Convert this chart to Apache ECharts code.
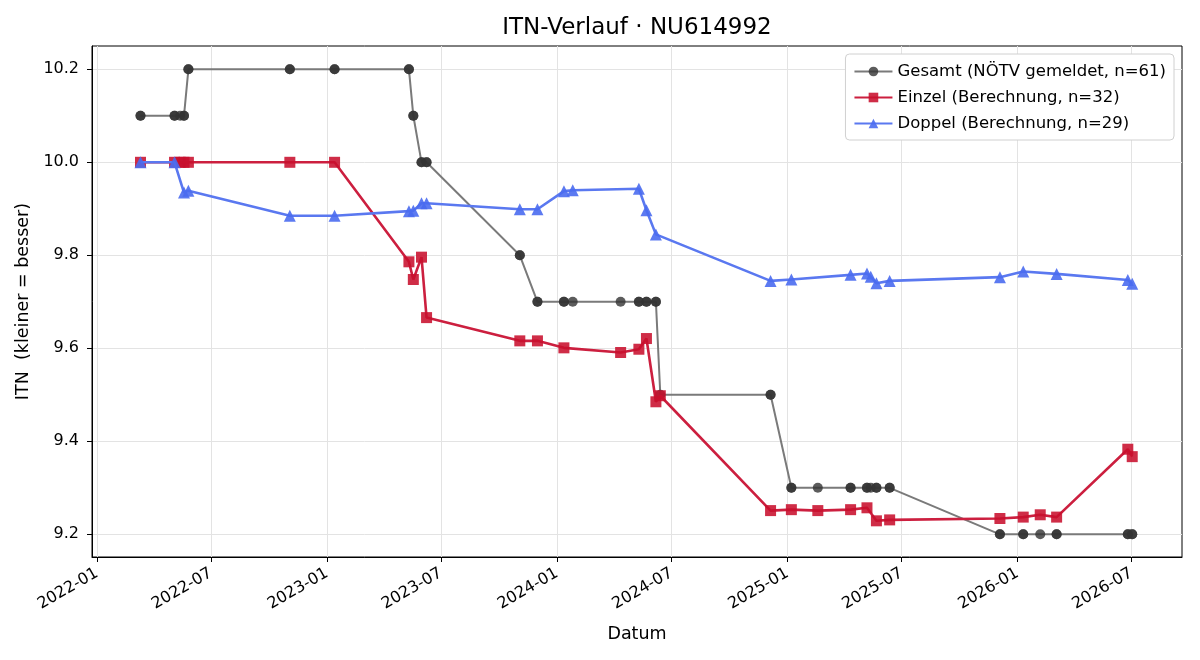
<!DOCTYPE html>
<html>
<head>
<meta charset="utf-8">
<script src="https://cdn.jsdelivr.net/npm/echarts@6/dist/echarts.min.js"></script>
<style>
  html, body { margin: 0; padding: 0; background: #fff; }
  #chart { width: 1200px; height: 660px; }
</style>
</head>
<body>
<div id="chart"></div>
<script>
// Gesamt: NÖTV-Meldungen (ein Eintrag je Einzel/Doppel-Ergebnis, daher Duplikate)
var gesamtDates = [
  '2022-03-11', '2022-03-11', '2022-05-04', '2022-05-04', '2022-05-13',
  '2022-05-19', '2022-05-19', '2022-05-26', '2022-05-26', '2022-11-03',
  '2022-11-03', '2023-01-13', '2023-01-13', '2023-05-11', '2023-05-11',
  '2023-05-18', '2023-05-18', '2023-05-31', '2023-05-31', '2023-06-08',
  '2023-06-08', '2023-11-03', '2023-11-03', '2023-12-01', '2023-12-01',
  '2024-01-12', '2024-01-12', '2024-01-26', '2024-04-11', '2024-05-10',
  '2024-05-10', '2024-05-22', '2024-05-22', '2024-06-06', '2024-06-06',
  '2024-06-13', '2024-12-05', '2024-12-05', '2025-01-07', '2025-01-07',
  '2025-02-18', '2025-04-11', '2025-04-11', '2025-05-07', '2025-05-07',
  '2025-05-13', '2025-05-22', '2025-05-22', '2025-06-12', '2025-06-12',
  '2025-12-04', '2025-12-04', '2026-01-10', '2026-01-10', '2026-02-06',
  '2026-03-04', '2026-03-04', '2026-06-25', '2026-06-25', '2026-07-02',
  '2026-07-02'
];
var gesamtValues = [
  10.1, 10.1, 10.1, 10.1, 10.1,
  10.1, 10.1, 10.2, 10.2, 10.2,
  10.2, 10.2, 10.2, 10.2, 10.2,
  10.1, 10.1, 10.0, 10.0, 10.0,
  10.0, 9.8, 9.8, 9.7, 9.7,
  9.7, 9.7, 9.7, 9.7, 9.7,
  9.7, 9.7, 9.7, 9.7, 9.7,
  9.5, 9.5, 9.5, 9.3, 9.3,
  9.3, 9.3, 9.3, 9.3, 9.3,
  9.3, 9.3, 9.3, 9.3, 9.3,
  9.2, 9.2, 9.2, 9.2, 9.2,
  9.2, 9.2, 9.2, 9.2, 9.2,
  9.2
];

// Einzel (Berechnung)
var einzelDates = [
  '2022-03-11', '2022-05-04', '2022-05-13', '2022-05-19', '2022-05-26',
  '2022-11-03', '2023-01-13', '2023-05-11', '2023-05-18', '2023-05-31',
  '2023-06-08', '2023-11-03', '2023-12-01', '2024-01-12', '2024-04-11',
  '2024-05-10', '2024-05-22', '2024-06-06', '2024-06-13', '2024-12-05',
  '2025-01-07', '2025-02-18', '2025-04-11', '2025-05-07', '2025-05-22',
  '2025-06-12', '2025-12-04', '2026-01-10', '2026-02-06', '2026-03-04',
  '2026-06-25', '2026-07-02'
];
var einzelValues = [
  10.0, 10.0, 10.0, 10.0, 10.0,
  10.0, 10.0, 9.786, 9.748, 9.796,
  9.666, 9.616, 9.616, 9.601, 9.591,
  9.598, 9.621, 9.485, 9.498, 9.251,
  9.253, 9.251, 9.253, 9.257, 9.229,
  9.231, 9.234, 9.237, 9.242, 9.237,
  9.383, 9.367
];

// Doppel (Berechnung)
var doppelDates = [
  '2022-03-11', '2022-05-04', '2022-05-19', '2022-05-26', '2022-11-03',
  '2023-01-13', '2023-05-11', '2023-05-18', '2023-05-31', '2023-06-08',
  '2023-11-03', '2023-12-01', '2024-01-12', '2024-01-26', '2024-05-10',
  '2024-05-22', '2024-06-06', '2024-12-05', '2025-01-07', '2025-04-11',
  '2025-05-07', '2025-05-13', '2025-05-22', '2025-06-12', '2025-12-04',
  '2026-01-10', '2026-03-04', '2026-06-25', '2026-07-02'
];
var doppelValues = [
  10.0, 10.0, 9.935, 9.939, 9.885,
  9.885, 9.895, 9.896, 9.912, 9.912,
  9.899, 9.899, 9.938, 9.940, 9.943,
  9.897, 9.845, 9.745, 9.748, 9.758,
  9.761, 9.754, 9.740, 9.745, 9.753,
  9.765, 9.760, 9.747, 9.739
];

// Achsenbeschriftungen
var xTickDates = ['2022-01-01', '2022-07-01', '2023-01-01', '2023-07-01', '2024-01-01',
  '2024-07-01', '2025-01-01', '2025-07-01', '2026-01-01', '2026-07-01'];
var yTicks = [9.2, 9.4, 9.6, 9.8, 10.0, 10.2];

function ts(d) { return new Date(d + 'T00:00:00Z').getTime(); }
function pairs(dates, values) {
  return dates.map(function (d, i) { return [ts(d), values[i]]; });
}

var font = 'DejaVu Sans';
var xTickValues = xTickDates.map(ts);

var chart = echarts.init(document.getElementById('chart'), null, { renderer: 'canvas' });
chart.setOption({
  animation: false,
  textStyle: { fontFamily: font },
  title: {
    text: 'ITN-Verlauf · NU614992',
    left: 632,
    top: 12,
    textAlign: 'center',
    textStyle: { fontFamily: font, fontSize: 23, fontWeight: 'normal', color: '#000' }
  },
  grid: {
    left: 92, right: 18, top: 46, bottom: 103,
    show: true, borderColor: '#000', borderWidth: 1, backgroundColor: 'transparent'
  },
  legend: {
    orient: 'vertical',
    right: 26,
    top: 54,
    backgroundColor: '#fff',
    borderColor: '#d0d0d0',
    borderWidth: 1,
    borderRadius: 4,
    padding: [9, 8, 8, 8],
    itemWidth: 38,
    itemHeight: 12,
    itemGap: 9,
    textStyle: { fontFamily: font, fontSize: 16.5, color: '#000' },
    data: ['Gesamt (NÖTV gemeldet, n=61)', 'Einzel (Berechnung, n=32)', 'Doppel (Berechnung, n=29)']
  },
  xAxis: {
    type: 'value',
    min: ts('2021-12-24'),
    max: ts('2026-09-19'),
    name: 'Datum',
    nameLocation: 'middle',
    nameGap: 68,
    nameTextStyle: { fontFamily: font, fontSize: 17.5, color: '#000' },
    axisLine: { show: true, onZero: false, lineStyle: { color: '#000', width: 1 } },
    axisTick: { show: true, length: 5, lineStyle: { color: '#000' }, customValues: xTickValues },
    axisLabel: {
      customValues: xTickValues,
      rotate: 30,
      fontFamily: font,
      fontSize: 16,
      color: '#000',
      margin: 15,
      formatter: function (v) {
        var d = new Date(v);
        var m = d.getUTCMonth() + 1;
        return d.getUTCFullYear() + '-' + (m < 10 ? '0' + m : m);
      }
    },
    splitLine: { show: true, lineStyle: { color: '#e3e3e3', width: 1 } }
  },
  yAxis: {
    type: 'value',
    min: 9.1512,
    max: 10.2501,
    name: 'ITN  (kleiner = besser)',
    nameLocation: 'middle',
    nameGap: 60,
    nameTextStyle: { fontFamily: font, fontSize: 17.5, color: '#000' },
    axisLine: { show: true, lineStyle: { color: '#000', width: 1 } },
    axisTick: { show: true, length: 5, lineStyle: { color: '#000' }, customValues: yTicks },
    axisLabel: {
      customValues: yTicks,
      fontFamily: font,
      fontSize: 16,
      color: '#000',
      margin: 13,
      formatter: function (v) { return v.toFixed(1); }
    },
    splitLine: { show: true, lineStyle: { color: '#e3e3e3', width: 1 } }
  },
  series: [
    {
      name: 'Gesamt (NÖTV gemeldet, n=61)',
      type: 'line',
      data: pairs(gesamtDates, gesamtValues),
      symbol: 'circle',
      symbolSize: 10,
      z: 2,
      lineStyle: { color: '#7a7a7a', width: 2 },
      itemStyle: { color: '#333', opacity: 0.8 }
    },
    {
      name: 'Einzel (Berechnung, n=32)',
      type: 'line',
      data: pairs(einzelDates, einzelValues),
      symbol: 'rect',
      symbolSize: 11,
      z: 3,
      lineStyle: { color: '#cc1f3f', width: 2.6 },
      itemStyle: { color: '#c8102e', opacity: 0.88 }
    },
    {
      name: 'Doppel (Berechnung, n=29)',
      type: 'line',
      data: pairs(doppelDates, doppelValues),
      symbol: 'triangle',
      symbolSize: 12,
      z: 4,
      lineStyle: { color: '#5a78f0', width: 2.6 },
      itemStyle: { color: '#4a6cf0', opacity: 0.9 }
    }
  ]
});
</script>
</body>
</html>
